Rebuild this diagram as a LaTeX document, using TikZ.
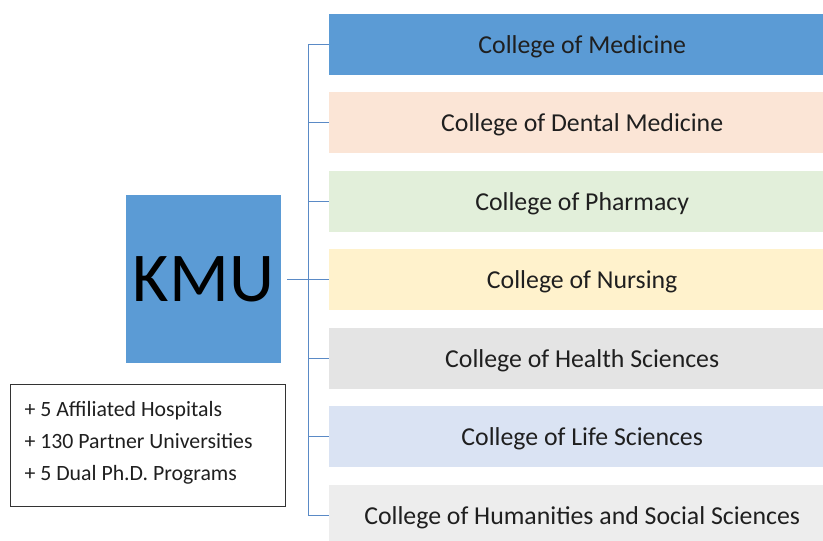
\documentclass[tikz,border=0pt]{standalone}
\usepackage{fontspec}
\setmainfont{Carlito}
\definecolor{kmublue}{HTML}{5B9BD5}
\definecolor{linkblue}{HTML}{5A8AC6}
\definecolor{cdental}{HTML}{FBE5D6}
\definecolor{cpharm}{HTML}{E2EFDA}
\definecolor{cnurs}{HTML}{FFF2CC}
\definecolor{chealth}{HTML}{E4E4E4}
\definecolor{clife}{HTML}{DAE3F3}
\definecolor{chum}{HTML}{EDEDED}
\tikzset{
  college/.style={anchor=west, minimum width=506pt, minimum height=61pt, inner sep=0pt,
    text height=23pt, text depth=5pt,
    font=\fontsize{25.8}{28}\selectfont, text=black!88},
  link/.style={draw=linkblue, line width=0.9pt},
}
\begin{document}
\begin{tikzpicture}[x=1pt,y=-1pt]
\useasboundingbox (0,0) rectangle (823,541);
\clip (0,0) rectangle (823,541);
\node[college, fill=kmublue] (c1) at (329,44) {College of Medicine};
\node[college, fill=cdental] (c2) at (329,122.5) {College of Dental Medicine};
\node[college, fill=cpharm] (c3) at (329,201) {College of Pharmacy};
\node[college, fill=cnurs] (c4) at (329,279.5) {College of Nursing};
\node[college, fill=chealth] (c5) at (329,358) {College of Health Sciences};
\node[college, fill=clife] (c6) at (329,436.5) {College of Life Sciences};
\node[college, fill=chum] (c7) at (329,515) {College of Humanities and Social Sciences};
\node[fill=kmublue, minimum width=155pt, minimum height=168pt, inner sep=0pt,
  font=\fontsize{70}{74}\selectfont] (kmu) at (203.5,279) {KMU};
\node[draw=black!80, line width=0.8pt, minimum width=275pt, minimum height=122pt, inner sep=0pt] (info) at (147.5,445) {};
\node[anchor=west, align=left, font=\fontsize{21.8}{32}\selectfont, text=black!88] (infotext) at (21,443)
  {+ 5 Affiliated Hospitals\\+ 130 Partner Universities\\+ 5 Dual Ph.D. Programs};
\coordinate (trunkTop) at (308,44);
\coordinate (trunkBot) at (308,515);
\draw[link] (trunkTop) -- (trunkBot);
\draw[link] (kmu.east) ++(6,0) coordinate (kstart) -- (kstart -| trunkTop);
\foreach \i in {1,...,7} {
  \draw[link] (c\i.west -| trunkTop) -- (c\i.west);
}
\end{tikzpicture}
\end{document}
